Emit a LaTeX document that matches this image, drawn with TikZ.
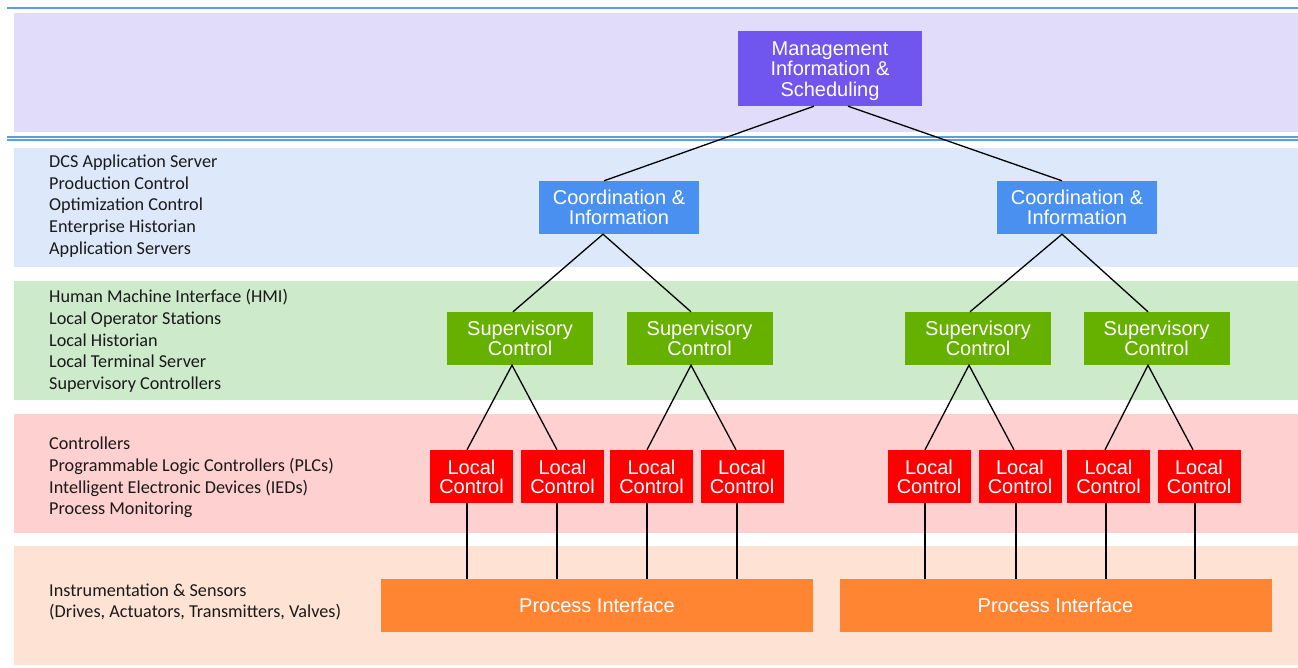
\documentclass[tikz,border=0pt]{standalone}
\usepackage{fontspec}
\setmainfont{Liberation Sans}
\newfontfamily\bandfont{Carlito}
\usetikzlibrary{calc}

\definecolor{rulecol}{RGB}{91,155,232}
\definecolor{bandmgmt}{RGB}{224,220,250}
\definecolor{bandcoord}{RGB}{221,233,251}
\definecolor{bandsup}{RGB}{205,234,203}
\definecolor{bandlocal}{RGB}{255,208,208}
\definecolor{bandproc}{RGB}{254,227,212}
\definecolor{mgmtfill}{RGB}{112,85,238}
\definecolor{coordfill}{RGB}{74,144,240}
\definecolor{supfill}{RGB}{102,176,0}
\definecolor{localfill}{RGB}{255,0,0}
\definecolor{procfill}{RGB}{255,133,51}
\definecolor{bandtextcol}{RGB}{26,26,26}

\begin{document}
\begin{tikzpicture}[x=1pt,y=-1pt,
  box/.style={rectangle, inner sep=0pt, minimum height=53pt, text=white,
    align=center, font=\fontsize{20}{20}\selectfont},
  mgmtbox/.style={box, fill=mgmtfill, minimum width=184pt, minimum height=75pt,
    font=\fontsize{20}{20.5}\selectfont},
  coordbox/.style={box, fill=coordfill, minimum width=160pt},
  supbox/.style={box, fill=supfill, minimum width=146pt},
  localbox/.style={box, fill=localfill, minimum width=83pt,
    font=\fontsize{20}{19}\selectfont},
  procbox/.style={box, fill=procfill, minimum width=432pt},
  bandtext/.style={inner sep=0pt, anchor=west, align=left, text=bandtextcol,
    font=\bandfont\fontsize{18.2}{21.75}\selectfont},
  wire/.style={draw=black, line width=1.3pt},
  rule/.style={draw=rulecol, line width=1.8pt}]

\useasboundingbox (0,0) rectangle (1298,668);
\fill[white] (0,0) rectangle (1298,668);

% layer bands
\fill[bandmgmt]  (14,13)  rectangle (1298,132);
\fill[bandcoord] (14,148) rectangle (1298,267);
\fill[bandsup]   (14,281) rectangle (1298,400);
\fill[bandlocal] (14,414) rectangle (1298,533);
\fill[bandproc]  (14,546) rectangle (1298,665);

% separator rules
\draw[rule] (7,8) -- (1298,8);
\draw[rule] (7,136.8) -- (1298,136.8);
\draw[rule] (7,139.9) -- (1298,139.9);

% layer descriptions
\node[bandtext] (txtcoord) at (49,206) {DCS Application Server\\Production Control\\Optimization Control\\Enterprise Historian\\Application Servers};
\node[bandtext] (txtsup) at (49,341) {Human Machine Interface (HMI)\\Local Operator Stations\\Local Historian\\Local Terminal Server\\Supervisory Controllers};
\node[bandtext] (txtlocal) at (49,477.5) {Controllers\\Programmable Logic Controllers (PLCs)\\Intelligent Electronic Devices (IEDs)\\Process Monitoring};
\node[bandtext] (txtproc) at (49,602) {Instrumentation \& Sensors\\(Drives, Actuators, Transmitters, Valves)};

% hierarchy boxes
\node[mgmtbox] (mgmt) at (830,68.5) {\rule{0pt}{19pt}Management\\Information \&\\Scheduling};

\node[coordbox] (coordL) at (619,207.5) {Coordination \&\\Information};
\node[coordbox] (coordR) at (1077,207.5) {Coordination \&\\Information};

\node[supbox] (sup1) at (520,338.5) {Supervisory\\Control};
\node[supbox] (sup2) at (699.5,338.5) {Supervisory\\Control};
\node[supbox] (sup3) at (978,338.5) {Supervisory\\Control};
\node[supbox] (sup4) at (1156.5,338.5) {Supervisory\\Control};

\node[localbox] (loc1) at (471.5,476.5) {Local\\Control};
\node[localbox] (loc2) at (562.5,476.5) {Local\\Control};
\node[localbox] (loc3) at (651.5,476.5) {Local\\Control};
\node[localbox] (loc4) at (742,476.5) {Local\\Control};
\node[localbox] (loc5) at (929,476.5) {Local\\Control};
\node[localbox] (loc6) at (1020,476.5) {Local\\Control};
\node[localbox] (loc7) at (1108.5,476.5) {Local\\Control};
\node[localbox] (loc8) at (1199,476.5) {Local\\Control};

\node[procbox] (procL) at (597,605.5) {Process Interface};
\node[procbox] (procR) at (1055.5,605.5) {Process Interface};

% management to coordination
\draw[wire] ([xshift=-16pt]mgmt.south) -- ([xshift=-15pt]coordL.north);
\draw[wire] ([xshift=18pt]mgmt.south) -- ([xshift=-15pt]coordR.north);

% coordination to supervisory
\draw[wire] ([xshift=-7pt]sup1.north) -- ([xshift=-16pt]coordL.south) -- ([xshift=-8.5pt]sup2.north);
\draw[wire] ([xshift=-8pt]sup3.north) -- ([xshift=-15pt]coordR.south) -- ([xshift=-8.5pt]sup4.north);

% supervisory to local
\draw[wire] ([xshift=-4.5pt]loc1.north) -- ([xshift=-8pt]sup1.south) -- ([xshift=-5.5pt]loc2.north);
\draw[wire] ([xshift=-4.5pt]loc3.north) -- ([xshift=-8.5pt]sup2.south) -- ([xshift=-6pt]loc4.north);
\draw[wire] ([xshift=-4pt]loc5.north) -- ([xshift=-9pt]sup3.south) -- ([xshift=-6pt]loc6.north);
\draw[wire] ([xshift=-3.5pt]loc7.north) -- ([xshift=-8.5pt]sup4.south) -- ([xshift=-6pt]loc8.north);

% local to process interface
\foreach \n/\s/\p in {1/-4.5/procL, 2/-5.5/procL, 3/-4.5/procL, 4/-5/procL,
                      5/-4/procR, 6/-4/procR, 7/-2.5/procR, 8/-4/procR}
  \draw[wire] ([xshift=\s pt]loc\n.south) -- ([xshift=\s pt]loc\n.south |- \p.north);

\end{tikzpicture}
\end{document}
